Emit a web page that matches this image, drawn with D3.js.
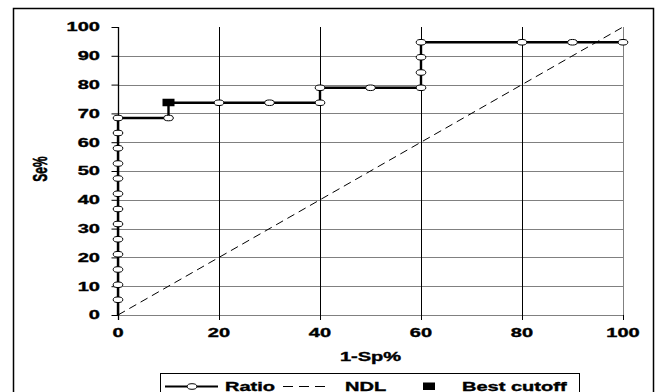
<!DOCTYPE html>
<html>
<head>
<meta charset="utf-8">
<script src="https://cdn.jsdelivr.net/npm/d3@7"></script>
<style>
  body { margin: 0; background: #fff; }
  svg text { font-family: "Liberation Sans", Arial, sans-serif; font-weight: bold; font-size: 12px; fill: #000; stroke: #000; stroke-width: 0.35px; }
</style>
</head>
<body>
<svg width="657" height="392"></svg>
<script>
// ROC points of the "Ratio" curve (x = 1-Sp%, y = Se%)
var ratioX = [0, 0, 0, 0, 0, 0, 0, 0, 0, 0, 0, 0, 0, 0,
              10, 10, 20, 30, 40, 40, 50, 60, 60, 60, 60, 80, 90, 100];
var ratioY = [0, 5.3, 10.5, 15.8, 21.1, 26.3, 31.6, 36.8, 42.1, 47.4, 52.6, 57.9, 63.2, 68.4,
              68.4, 73.7, 73.7, 73.7, 73.7, 78.9, 78.9, 78.9, 84.2, 89.5, 94.7, 94.7, 94.7, 94.7];
// non-discrimination line
var ndlX = [0, 100];
var ndlY = [0, 100];
// best cutoff
var bestX = [10];
var bestY = [73.7];

var yTicks = [0, 10, 20, 30, 40, 50, 60, 70, 80, 90, 100];
var xTicks = [0, 20, 40, 60, 80, 100];
var legendLabels = ['Ratio', 'NDL', 'Best cutoff'];

var svg = d3.select('svg');
var stretch = 1.67; // text in the picture is wide

var padding = {l: 118, r: 34, t: 27, b: 77};
var x = d3.scaleLinear().domain([0, 100]).range([padding.l, 657 - padding.r]);
var y = d3.scaleLinear().domain([0, 100]).range([392 - padding.b, padding.t]);

// outer frame
svg.append('rect')
    .attr('x', 13.5).attr('y', 8.5)
    .attr('width', 640).attr('height', 400)
    .attr('fill', 'none').attr('stroke', '#000').attr('stroke-width', 1.5);

// horizontal grid lines (gray)
svg.append('g').selectAll('line')
    .data(yTicks.filter(d => d < 100))
    .enter().append('line')
    .attr('x1', x(0)).attr('x2', x(100))
    .attr('y1', d => Math.round(y(d)) + 0.5).attr('y2', d => Math.round(y(d)) + 0.5)
    .attr('stroke', '#808080').attr('stroke-width', 1);

// vertical grid lines (black, last one gray)
svg.append('g').selectAll('line')
    .data(xTicks.filter(d => d > 0))
    .enter().append('line')
    .attr('x1', d => Math.round(x(d)) + 0.5).attr('x2', d => Math.round(x(d)) + 0.5)
    .attr('y1', y(100)).attr('y2', y(0))
    .attr('stroke', d => d === 100 ? '#808080' : '#000').attr('stroke-width', 1);

// y axis
var yAxis = d3.axisLeft(y).tickValues(yTicks).tickSize(7).tickPadding(0).tickFormat(d => '');
var yG = svg.append('g')
    .attr('transform', 'translate(' + (Math.round(x(0)) + 0.5) + ',0)')
    .call(yAxis);
yG.select('.domain').attr('d', 'M0,' + y(100) + 'V' + (y(0) + 5)).attr('stroke-width', 1.3);
yG.selectAll('line').attr('stroke', '#000');

// x axis ticks
var xAxis = d3.axisBottom(x).tickValues(xTicks).tickSize(5).tickFormat(d => '');
var xG = svg.append('g')
    .attr('transform', 'translate(0,' + y(0) + ')')
    .call(xAxis);
xG.select('.domain').remove();
xG.selectAll('line').attr('stroke', '#000');

// tick labels, drawn stretched
svg.append('g').selectAll('text')
    .data(yTicks)
    .enter().append('text')
    .attr('text-anchor', 'end')
    .attr('transform', d => 'translate(100,' + (y(d) + 4.3) + ') scale(' + stretch + ',1)')
    .text(d => d);

svg.append('g').selectAll('text')
    .data(xTicks)
    .enter().append('text')
    .attr('text-anchor', 'middle')
    .attr('transform', d => 'translate(' + x(d) + ',337) scale(' + stretch + ',1)')
    .text(d => d);

// axis titles
svg.append('text')
    .attr('text-anchor', 'middle')
    .attr('transform', 'translate(' + ((x(0) + x(100)) / 2) + ',361) scale(' + stretch + ',1)')
    .text('1-Sp%');

svg.append('text')
    .attr('text-anchor', 'middle')
    .attr('transform', 'translate(47,' + ((y(0) + y(100)) / 2 - 2) + ') scale(' + stretch + ',1) rotate(-90)')
    .text('Se%');

// NDL
var ndl = d3.line().x(d => x(d[0])).y(d => y(d[1]));
svg.append('path')
    .attr('d', ndl(d3.zip(ndlX, ndlY)))
    .attr('fill', 'none').attr('stroke', '#000').attr('stroke-width', 1)
    .attr('stroke-dasharray', '8,5');

// Ratio curve
var ratioPts = d3.zip(ratioX, ratioY);
svg.append('path')
    .attr('d', ndl(ratioPts))
    .attr('fill', 'none').attr('stroke', '#000').attr('stroke-width', 2.4);

svg.append('g').selectAll('ellipse')
    .data(ratioPts.slice(1))
    .enter().append('ellipse')
    .attr('cx', d => x(d[0])).attr('cy', d => y(d[1]))
    .attr('rx', 4.8).attr('ry', 2.8)
    .attr('fill', '#fff').attr('stroke', '#000').attr('stroke-width', 1);

// best cutoff
svg.append('g').selectAll('rect')
    .data(d3.zip(bestX, bestY))
    .enter().append('rect')
    .attr('x', d => x(d[0]) - 6).attr('y', d => y(d[1]) - 4)
    .attr('width', 12).attr('height', 7.5)
    .attr('fill', '#000');

// legend
var lg = svg.append('g');
lg.append('rect')
    .attr('x', 160.5).attr('y', 373.5)
    .attr('width', 419).attr('height', 30)
    .attr('fill', '#fff').attr('stroke', '#000').attr('stroke-width', 1);

var legendY = 386.5;
lg.append('line')
    .attr('x1', 165).attr('x2', 218).attr('y1', legendY).attr('y2', legendY)
    .attr('stroke', '#000').attr('stroke-width', 2);
lg.append('ellipse')
    .attr('cx', 192).attr('cy', legendY).attr('rx', 4.8).attr('ry', 2.8)
    .attr('fill', '#fff').attr('stroke', '#000').attr('stroke-width', 1);
lg.append('line')
    .attr('x1', 283).attr('x2', 329).attr('y1', legendY).attr('y2', legendY)
    .attr('stroke', '#000').attr('stroke-width', 1).attr('stroke-dasharray', '10,6');
lg.append('rect')
    .attr('x', 423).attr('y', legendY - 4).attr('width', 12).attr('height', 7.5)
    .attr('fill', '#000');

var legendX = [225, 345, 462];
lg.selectAll('text.leg')
    .data(legendLabels)
    .enter().append('text')
    .attr('class', 'leg')
    .attr('transform', (d, i) => 'translate(' + legendX[i] + ',' + (legendY + 4.3) + ') scale(' + stretch + ',1)')
    .text(d => d);
</script>
</body>
</html>
